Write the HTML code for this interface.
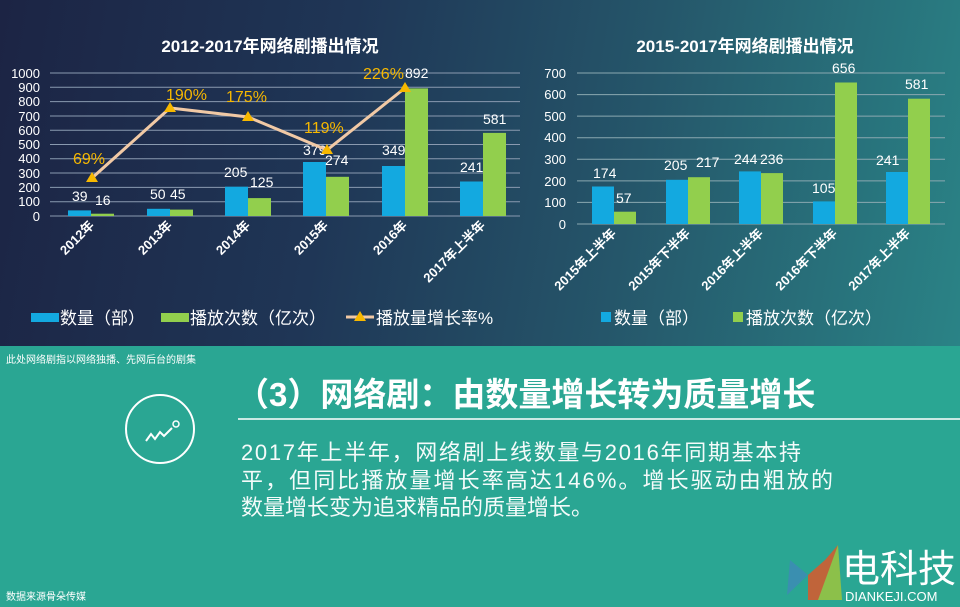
<!DOCTYPE html>
<html><head><meta charset="utf-8"><style>
body{margin:0;width:960px;height:607px;overflow:hidden;font-family:"Liberation Sans","Noto Sans CJK SC",sans-serif;}
#top{position:absolute;left:0;top:0;width:960px;height:346px;background:linear-gradient(100deg,#1c2444 0%,#1f3656 35%,#25566a 65%,#2a8386 100%);}
#bot{position:absolute;left:0;top:346px;width:960px;height:261px;background:#2aa693;}
</style></head><body>
<div id="top"></div><div id="bot"></div>
<svg width="960" height="607" style="position:absolute;left:0;top:0" font-family="Liberation Sans, Noto Sans CJK SC, sans-serif">
<text x="270" y="52" fill="#fff" font-size="17" text-anchor="middle" font-weight="bold">2012-2017年网络剧播出情况</text>
<g stroke="#8a9ab0" stroke-width="1">
<line x1="50" x2="520" y1="73" y2="73"/><line x1="50" x2="520" y1="87.3" y2="87.3"/><line x1="50" x2="520" y1="101.6" y2="101.6"/><line x1="50" x2="520" y1="116" y2="116"/><line x1="50" x2="520" y1="130.2" y2="130.2"/><line x1="50" x2="520" y1="144.5" y2="144.5"/><line x1="50" x2="520" y1="158.8" y2="158.8"/><line x1="50" x2="520" y1="173" y2="173"/><line x1="50" x2="520" y1="187.4" y2="187.4"/><line x1="50" x2="520" y1="201.7" y2="201.7"/><line x1="50" x2="520" y1="216" y2="216"/>
</g>
<g fill="#fff" font-size="13" text-anchor="end">
<text x="40" y="78">1000</text><text x="40" y="92">900</text><text x="40" y="106">800</text><text x="40" y="121">700</text><text x="40" y="135">600</text><text x="40" y="149">500</text><text x="40" y="163">400</text><text x="40" y="178">300</text><text x="40" y="192">200</text><text x="40" y="206">100</text><text x="40" y="221">0</text>
</g>
<g fill="#13a9e0">
<rect x="68" y="210.4" width="23" height="5.6"/><rect x="147" y="208.8" width="23" height="7.2"/><rect x="225" y="186.7" width="23" height="29.3"/><rect x="303" y="162" width="23" height="54"/><rect x="382" y="166" width="23" height="50"/><rect x="460" y="181.5" width="23" height="34.5"/>
</g>
<g fill="#92cf4d">
<rect x="91" y="213.7" width="23" height="2.3"/><rect x="170" y="209.6" width="23" height="6.4"/><rect x="248" y="198.1" width="23" height="17.9"/><rect x="326" y="176.8" width="23" height="39.2"/><rect x="405" y="88.4" width="23" height="127.6"/><rect x="483" y="132.9" width="23" height="83.1"/>
</g>
<g fill="#fff" font-size="14">
<text x="72" y="201">39</text><text x="95" y="205">16</text><text x="150" y="199">50</text><text x="170" y="199">45</text><text x="224" y="177">205</text><text x="250" y="187">125</text><text x="303" y="155">379</text><text x="325" y="165">274</text><text x="382" y="155">349</text><text x="405" y="78">892</text><text x="460" y="172">241</text><text x="483" y="124">581</text>
</g>
<polyline points="92,178 170,108 248,117 327,150 405,88" fill="none" stroke="#f1c9a5" stroke-width="3"/>
<g fill="#f7b800">
<polygon points="92,172 86,182 98,182"/><polygon points="170,102 164,112 176,112"/><polygon points="248,111 242,121 254,121"/><polygon points="327,144 321,154 333,154"/><polygon points="405,82 399,92 411,92"/>
</g>
<g fill="#f7b800" font-size="16">
<text x="73" y="164">69%</text><text x="166" y="100">190%</text><text x="226" y="102">175%</text><text x="304" y="133">119%</text><text x="363" y="79">226%</text>
</g>
<g fill="#fff" font-size="13" font-weight="bold" text-anchor="end">
<text transform="translate(95,226) rotate(-45)">2012年</text><text transform="translate(173,226) rotate(-45)">2013年</text><text transform="translate(251,226) rotate(-45)">2014年</text><text transform="translate(329,226) rotate(-45)">2015年</text><text transform="translate(408,226) rotate(-45)">2016年</text><text transform="translate(486,226) rotate(-45)">2017年上半年</text>
</g>
<rect x="31" y="313" width="28" height="9" fill="#13a9e0"/><text x="60" y="324" fill="#fff" font-size="17">数量（部）</text>
<rect x="161" y="313" width="28" height="9" fill="#92cf4d"/><text x="190" y="324" fill="#fff" font-size="17">播放次数（亿次）</text>
<line x1="346" y1="317" x2="374" y2="317" stroke="#f1c9a5" stroke-width="3"/><polygon points="360,311 354,321 366,321" fill="#f7b800"/><text x="376" y="324" fill="#fff" font-size="17">播放量增长率%</text>

<text x="745" y="52" fill="#fff" font-size="17" text-anchor="middle" font-weight="bold">2015-2017年网络剧播出情况</text>
<g stroke="#8aa8b0" stroke-width="1">
<line x1="577" x2="945" y1="73" y2="73"/><line x1="577" x2="945" y1="94.6" y2="94.6"/><line x1="577" x2="945" y1="116.1" y2="116.1"/><line x1="577" x2="945" y1="137.7" y2="137.7"/><line x1="577" x2="945" y1="159.3" y2="159.3"/><line x1="577" x2="945" y1="180.9" y2="180.9"/><line x1="577" x2="945" y1="202.4" y2="202.4"/><line x1="577" x2="945" y1="224" y2="224"/>
</g>
<g fill="#fff" font-size="13" text-anchor="end">
<text x="566" y="78">700</text><text x="566" y="99">600</text><text x="566" y="121">500</text><text x="566" y="142">400</text><text x="566" y="164">300</text><text x="566" y="186">200</text><text x="566" y="207">100</text><text x="566" y="229">0</text>
</g>
<g fill="#13a9e0">
<rect x="592" y="186.5" width="22" height="37.5"/><rect x="666" y="179.8" width="22" height="44.2"/><rect x="739" y="171.4" width="22" height="52.6"/><rect x="813" y="201.4" width="22" height="22.6"/><rect x="886" y="172" width="22" height="52"/>
</g>
<g fill="#92cf4d">
<rect x="614" y="211.7" width="22" height="12.3"/><rect x="688" y="177.2" width="22" height="46.8"/><rect x="761" y="173.1" width="22" height="50.9"/><rect x="835" y="82.5" width="22" height="141.5"/><rect x="908" y="98.7" width="22" height="125.3"/>
</g>
<g fill="#fff" font-size="14">
<text x="593" y="178">174</text><text x="616" y="203">57</text><text x="664" y="170">205</text><text x="696" y="167">217</text><text x="734" y="164">244</text><text x="760" y="164">236</text><text x="812" y="193">105</text><text x="832" y="73">656</text><text x="876" y="165">241</text><text x="905" y="89">581</text>
</g>
<g fill="#fff" font-size="13" font-weight="bold" text-anchor="end">
<text transform="translate(617,234) rotate(-45)">2015年上半年</text><text transform="translate(691,234) rotate(-45)">2015年下半年</text><text transform="translate(764,234) rotate(-45)">2016年上半年</text><text transform="translate(838,234) rotate(-45)">2016年下半年</text><text transform="translate(911,234) rotate(-45)">2017年上半年</text>
</g>
<rect x="601" y="312" width="10" height="10" fill="#13a9e0"/><text x="614" y="324" fill="#fff" font-size="17">数量（部）</text>
<rect x="733" y="312" width="10" height="10" fill="#92cf4d"/><text x="746" y="324" fill="#fff" font-size="17">播放次数（亿次）</text>

<text x="6" y="363" fill="#fff" font-size="10">此处网络剧指以网络独播、先网后台的剧集</text>
<text x="236" y="406" fill="#fff" font-size="33" font-weight="bold">（3）网络剧：由数量增长转为质量增长</text>
<line x1="238" y1="419" x2="960" y2="419" stroke="#fff" stroke-width="1.5"/>
<circle cx="160" cy="429" r="34" fill="none" stroke="#fff" stroke-width="2"/>
<polyline points="146,441 151,434 155,439 160,432 164,436 172,428" fill="none" stroke="#fff" stroke-width="2"/>
<circle cx="176" cy="424" r="3" fill="none" stroke="#fff" stroke-width="1.5"/>
<g fill="#fff" font-size="22" fill-opacity="0.95">
<text x="241" y="460" textLength="560">2017年上半年，网络剧上线数量与2016年同期基本持</text>
<text x="241" y="488" textLength="592">平，但同比播放量增长率高达146%。增长驱动由粗放的</text>
<text x="241" y="515">数量增长变为追求精品的质量增长。</text>
</g>
<text x="6" y="600" fill="#fff" font-size="10">数据来源骨朵传媒</text>
<polygon points="787,595 790,560 808,575" fill="#3a8fb0"/><polygon points="808,600 808,575 825,560 838,545 832,600" fill="#c0643a"/><polygon points="818,600 838,545 842,600" fill="#8cc04a"/>
<text x="842" y="582" fill="#fff" font-size="38">电科技</text>
<text x="845" y="601" fill="#fff" font-size="13">DIANKEJI.COM</text>
</svg>
</body></html>
